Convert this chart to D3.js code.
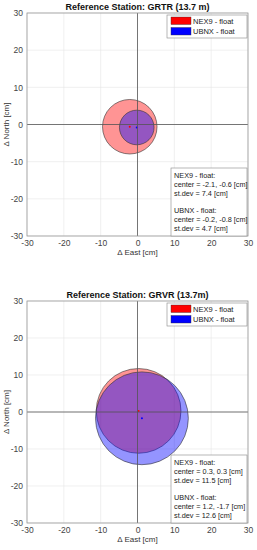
<!DOCTYPE html>
<html>
<head>
<meta charset="utf-8">
<script src="https://cdn.jsdelivr.net/npm/d3@7"></script>
<style>
  body { margin: 0; background: #fff; }
  svg text { font-family: "Liberation Sans", Arial, sans-serif; }
</style>
</head>
<body>
<div id="chart"></div>
<script>
// data
const stations = ["Reference Station: GRTR (13.7 m)", "Reference Station: GRVR (13.7m)"];
const receivers = ["NEX9 - float", "UBNX - float"];
const centerE = [[-2.1, 0.3], [-0.2, 1.2]];   // [receiver][station]
const centerN = [[-0.6, 0.3], [-0.8, -1.7]];
const stdev = [[7.4, 11.5], [4.7, 12.6]];
const ticks = [-30, -20, -10, 0, 10, 20, 30];
const colors = ["#ff0000", "#0000ff"];

const width = 257, height = 550;
const svg = d3.select("#chart").append("svg")
  .attr("width", width).attr("height", height);

// panel layout
const panels = [
  { top: 13, bottom: 236, titleY: 10 },
  { top: 301, bottom: 523, titleY: 298 }
];
const left = 27, right = 248;

panels.forEach((p, s) => {
  const g = svg.append("g");
  const x = d3.scaleLinear().domain([-30, 30]).range([left, right]);
  const y = d3.scaleLinear().domain([-30, 30]).range([p.bottom, p.top]);

  // grid
  g.selectAll(".gx").data(ticks).enter().append("line")
    .attr("x1", d => x(d)).attr("x2", d => x(d))
    .attr("y1", p.top).attr("y2", p.bottom)
    .attr("stroke", "#e6e6e6").attr("stroke-width", 0.6);
  g.selectAll(".gy").data(ticks).enter().append("line")
    .attr("y1", d => y(d)).attr("y2", d => y(d))
    .attr("x1", left).attr("x2", right)
    .attr("stroke", "#e6e6e6").attr("stroke-width", 0.6);

  // circles
  receivers.forEach((r, i) => {
    g.append("circle")
      .attr("cx", x(centerE[i][s])).attr("cy", y(centerN[i][s]))
      .attr("r", x(stdev[i][s]) - x(0))
      .attr("fill", colors[i]).attr("fill-opacity", 0.42)
      .attr("stroke", "#333").attr("stroke-width", 0.6);
  });
  receivers.forEach((r, i) => {
    g.append("circle")
      .attr("cx", x(centerE[i][s])).attr("cy", y(centerN[i][s]))
      .attr("r", 1).attr("fill", colors[i]);
  });

  // zero axes
  g.append("line").attr("x1", x(0)).attr("x2", x(0))
    .attr("y1", p.top).attr("y2", p.bottom)
    .attr("stroke", "#555").attr("stroke-width", 0.8);
  g.append("line").attr("y1", y(0)).attr("y2", y(0))
    .attr("x1", left).attr("x2", right)
    .attr("stroke", "#555").attr("stroke-width", 0.8);

  // axes
  const xa = g.append("g").attr("transform", `translate(0,${p.bottom})`)
    .call(d3.axisBottom(x).tickValues(ticks).tickFormat(d => String(d)).tickSize(0).tickPadding(4));
  const ya = g.append("g").attr("transform", `translate(${left},0)`)
    .call(d3.axisLeft(y).tickValues(ticks).tickFormat(d => String(d)).tickSize(0).tickPadding(4));
  [xa, ya].forEach(a => {
    a.select(".domain").remove();
    a.selectAll("text").attr("font-size", 8.5).attr("fill", "#444");
  });

  // frame
  g.append("rect").attr("x", left).attr("y", p.top)
    .attr("width", right - left).attr("height", p.bottom - p.top)
    .attr("fill", "none").attr("stroke", "#999").attr("stroke-width", 0.8);

  // title and labels
  g.append("text").attr("x", (left + right) / 2).attr("y", p.titleY)
    .attr("text-anchor", "middle").attr("font-size", 9).attr("font-weight", "bold")
    .attr("fill", "#111").text(stations[s]);
  g.append("text").attr("x", (left + right) / 2).attr("y", p.bottom + 19)
    .attr("text-anchor", "middle").attr("font-size", 8).attr("fill", "#333")
    .text("Δ East [cm]");
  g.append("text")
    .attr("transform", `translate(9,${(p.top + p.bottom) / 2}) rotate(-90)`)
    .attr("text-anchor", "middle").attr("font-size", 8).attr("fill", "#333")
    .text("Δ North [cm]");

  // legend
  const lg = g.append("g");
  lg.append("rect").attr("x", 167).attr("y", p.top + 2)
    .attr("width", 80).attr("height", 23)
    .attr("fill", "#fff").attr("stroke", "#888").attr("stroke-width", 0.6);
  receivers.forEach((r, i) => {
    lg.append("rect").attr("x", 171).attr("y", p.top + 4 + i * 10.5)
      .attr("width", 20).attr("height", 7.5).attr("fill", colors[i])
      .attr("stroke", "#333").attr("stroke-width", 0.4);
    lg.append("text").attr("x", 193).attr("y", p.top + 10.5 + i * 10.5)
      .attr("font-size", 7.5).attr("fill", "#222").text(r);
  });

  // stats box
  const bx = g.append("g");
  const boxTop = p.bottom - 68;
  bx.append("rect").attr("x", 171).attr("y", boxTop)
    .attr("width", 76).attr("height", p.bottom - boxTop)
    .attr("fill", "#fff").attr("stroke", "#888").attr("stroke-width", 0.6);
  const lines = [];
  receivers.forEach((r, i) => {
    lines.push(r + ":");
    lines.push(`center = ${centerE[i][s].toFixed(1)}, ${centerN[i][s].toFixed(1)} [cm]`);
    lines.push(`st.dev = ${stdev[i][s].toFixed(1)} [cm]`);
    if (i === 0) lines.push("");
  });
  lines.forEach((t, k) => {
    bx.append("text").attr("x", 174).attr("y", boxTop + 10 + k * 8.8)
      .attr("font-size", 7.3).attr("fill", "#222").text(t);
  });
});
</script>
</body>
</html>
